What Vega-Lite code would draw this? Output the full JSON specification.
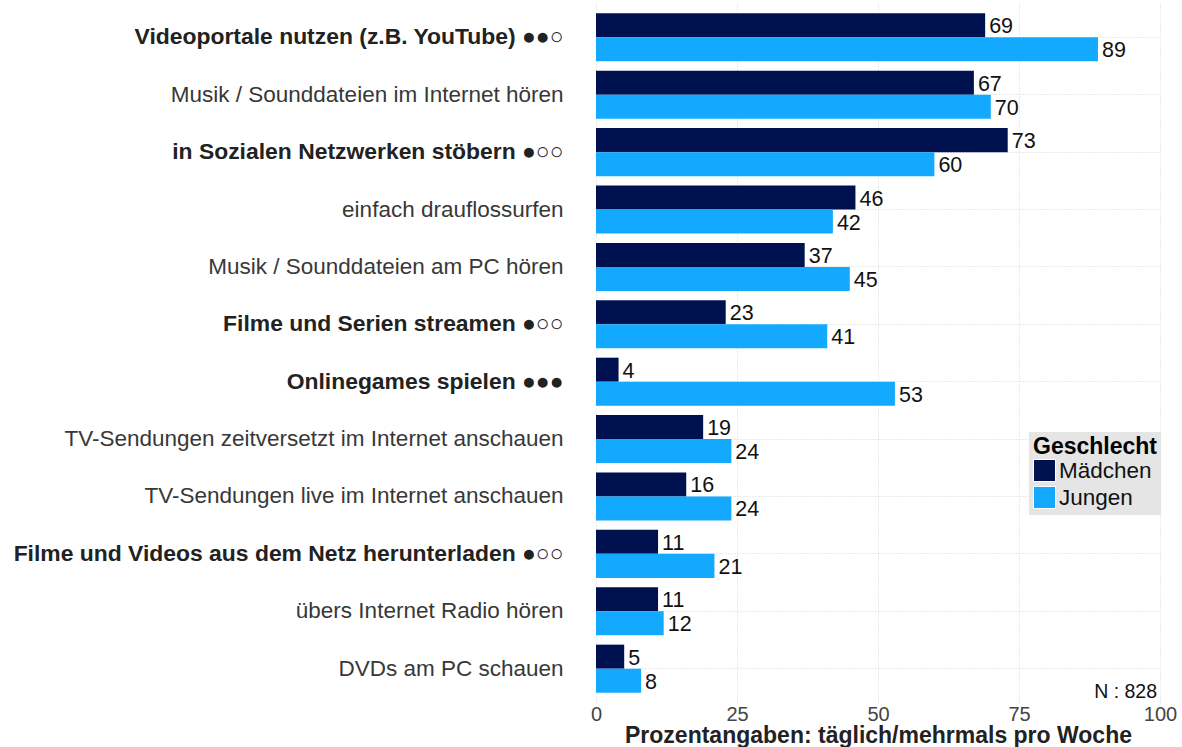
{
  "$schema": "https://vega.github.io/schema/vega-lite/v6.json",
  "autosize": {"type": "none"},
  "padding": {"left": 596, "top": 3, "right": 22, "bottom": 44},
  "width": 564,
  "height": 700,
  "background": "white",
  "config": {
    "view": {"stroke": null},
    "font": "Liberation Sans"
  },
  "datasets": {
    "main": [
      {"Aktivitaet": "Videoportale nutzen (z.B. YouTube) ●●○", "Geschlecht": "Mädchen", "Wert": 69},
      {"Aktivitaet": "Videoportale nutzen (z.B. YouTube) ●●○", "Geschlecht": "Jungen", "Wert": 89},
      {"Aktivitaet": "Musik / Sounddateien im Internet hören", "Geschlecht": "Mädchen", "Wert": 67},
      {"Aktivitaet": "Musik / Sounddateien im Internet hören", "Geschlecht": "Jungen", "Wert": 70},
      {"Aktivitaet": "in Sozialen Netzwerken stöbern ●○○", "Geschlecht": "Mädchen", "Wert": 73},
      {"Aktivitaet": "in Sozialen Netzwerken stöbern ●○○", "Geschlecht": "Jungen", "Wert": 60},
      {"Aktivitaet": "einfach drauflossurfen", "Geschlecht": "Mädchen", "Wert": 46},
      {"Aktivitaet": "einfach drauflossurfen", "Geschlecht": "Jungen", "Wert": 42},
      {"Aktivitaet": "Musik / Sounddateien am PC hören", "Geschlecht": "Mädchen", "Wert": 37},
      {"Aktivitaet": "Musik / Sounddateien am PC hören", "Geschlecht": "Jungen", "Wert": 45},
      {"Aktivitaet": "Filme und Serien streamen ●○○", "Geschlecht": "Mädchen", "Wert": 23},
      {"Aktivitaet": "Filme und Serien streamen ●○○", "Geschlecht": "Jungen", "Wert": 41},
      {"Aktivitaet": "Onlinegames spielen ●●●", "Geschlecht": "Mädchen", "Wert": 4},
      {"Aktivitaet": "Onlinegames spielen ●●●", "Geschlecht": "Jungen", "Wert": 53},
      {"Aktivitaet": "TV-Sendungen zeitversetzt im Internet anschauen", "Geschlecht": "Mädchen", "Wert": 19},
      {"Aktivitaet": "TV-Sendungen zeitversetzt im Internet anschauen", "Geschlecht": "Jungen", "Wert": 24},
      {"Aktivitaet": "TV-Sendungen live im Internet anschauen", "Geschlecht": "Mädchen", "Wert": 16},
      {"Aktivitaet": "TV-Sendungen live im Internet anschauen", "Geschlecht": "Jungen", "Wert": 24},
      {"Aktivitaet": "Filme und Videos aus dem Netz herunterladen ●○○", "Geschlecht": "Mädchen", "Wert": 11},
      {"Aktivitaet": "Filme und Videos aus dem Netz herunterladen ●○○", "Geschlecht": "Jungen", "Wert": 21},
      {"Aktivitaet": "übers Internet Radio hören", "Geschlecht": "Mädchen", "Wert": 11},
      {"Aktivitaet": "übers Internet Radio hören", "Geschlecht": "Jungen", "Wert": 12},
      {"Aktivitaet": "DVDs am PC schauen", "Geschlecht": "Mädchen", "Wert": 5},
      {"Aktivitaet": "DVDs am PC schauen", "Geschlecht": "Jungen", "Wert": 8}
    ],
    "note": [
      {"Aktivitaet": "DVDs am PC schauen", "x": 100, "label": "N : 828"}
    ]
  },
  "layer": [
    {
      "data": {"name": "main"},
      "mark": {"type": "bar"},
      "encoding": {
        "y": {
          "field": "Aktivitaet", "type": "nominal", "sort": null,
          "scale": {"paddingInner": 0.163, "paddingOuter": 0.18},
          "axis": {
            "title": null, "ticks": false, "domain": false,
            "bandPosition": 0.5,
            "labelPadding": 33, "labelLimit": 800,
            "labelFontSize": {"condition": {"test": "indexof(datum.value, '●') >= 0", "value": 22.9}, "value": 22.5},
            "labelColor": {"condition": {"test": "indexof(datum.value, '●') >= 0", "value": "#222222"}, "value": "#383838"},
            "labelFontWeight": {"condition": {"test": "indexof(datum.value, '●') >= 0", "value": "bold"}, "value": "normal"},
            "grid": true, "gridColor": "#d4d4d4", "gridDash": [1, 2], "gridWidth": 1
          }
        },
        "yOffset": {"field": "Geschlecht", "type": "nominal", "sort": ["Mädchen", "Jungen"], "scale": {"paddingInner": 0, "paddingOuter": 0}},
        "x": {
          "field": "Wert", "type": "quantitative",
          "scale": {"domain": [0, 100], "nice": false, "zero": true},
          "axis": {
            "title": "Prozentangaben: täglich/mehrmals pro Woche",
            "titleFontSize": 23, "titleFontWeight": "bold", "titleColor": "#222222",
            "titleBaseline": "alphabetic", "titleY": 39,
            "values": [0, 25, 50, 75, 100],
            "ticks": false, "domain": false, "labelFlush": false,
            "labelFontSize": 20, "labelColor": "#444444", "labelPadding": 1,
            "grid": true, "gridColor": "#d4d4d4", "gridDash": [1, 2], "gridWidth": 1
          }
        },
        "color": {
          "field": "Geschlecht", "type": "nominal",
          "sort": ["Mädchen", "Jungen"],
          "scale": {"domain": ["Mädchen", "Jungen"], "range": ["#001150", "#12a9ff"]},
          "legend": {
            "orient": "none", "legendX": 433, "legendY": 429,
            "title": "Geschlecht", "titleFontSize": 23, "titleFontWeight": "bold", "titleColor": "#000000",
            "titlePadding": 0,
            "labelFontSize": 22.5, "labelColor": "#111111", "labelOffset": 3,
            "symbolType": "square", "symbolSize": 484, "symbolStrokeWidth": 1, "symbolStrokeColor": "white",
            "rowPadding": 0,
            "fillColor": "#e5e5e5", "padding": 4
          }
        }
      }
    },
    {
      "data": {"name": "main"},
      "mark": {"type": "text", "align": "left", "baseline": "middle", "dx": 4, "dy": 2, "fontSize": 21.5, "color": "#111111"},
      "encoding": {
        "y": {"field": "Aktivitaet", "type": "nominal", "sort": null},
        "yOffset": {"field": "Geschlecht", "type": "nominal", "sort": ["Mädchen", "Jungen"]},
        "x": {"field": "Wert", "type": "quantitative"},
        "text": {"field": "Wert", "type": "quantitative"}
      }
    },
    {
      "data": {"name": "note"},
      "mark": {"type": "text", "align": "right", "baseline": "middle", "dx": -3, "dy": 23, "fontSize": 19.5, "color": "#111111"},
      "encoding": {
        "y": {"field": "Aktivitaet", "type": "nominal", "sort": null},
        "x": {"field": "x", "type": "quantitative"},
        "text": {"field": "label"}
      }
    }
  ]
}
